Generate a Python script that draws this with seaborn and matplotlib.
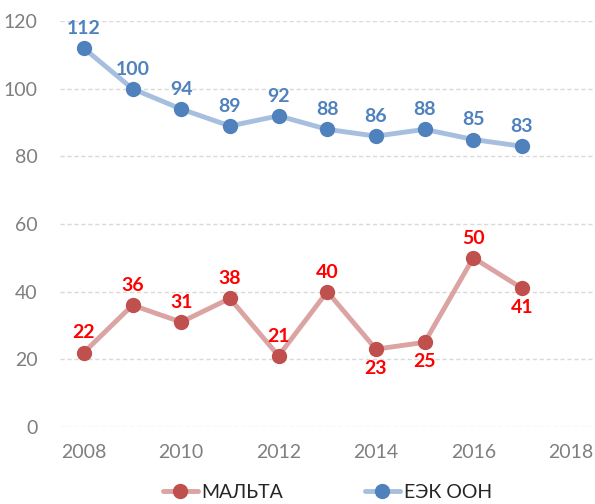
import matplotlib.pyplot as plt
import seaborn as sns
import pandas as pd

years = list(range(2008, 2018))
malta = [22, 36, 31, 38, 21, 40, 23, 25, 50, 41]
unece = [112, 100, 94, 89, 92, 88, 86, 88, 85, 83]
malta_below = [2014, 2015, 2017]

sns.set_theme(style="white")
plt.rcParams['font.family'] = ['Lato', 'DejaVu Sans']

fig = plt.figure(figsize=(5.95, 5.04), dpi=100)
ax = fig.add_axes([0.10, 0.153, 0.90, 0.805])

df = pd.DataFrame({"year": years, "МАЛЬТА": malta, "ЕЭК ООН": unece})

# lines and markers
ax.plot(df["year"], df["МАЛЬТА"], color="#dba3a2", lw=3.5, marker="o",
        ms=10, mfc="#c0504d", mec="#c0504d", label="МАЛЬТА", zorder=3)
ax.plot(df["year"], df["ЕЭК ООН"], color="#a7bfde", lw=3.5, marker="o",
        ms=10, mfc="#4f81bd", mec="#4f81bd", label="ЕЭК ООН", zorder=3)

for x, y in zip(years, unece):
    ax.annotate(str(y), (x, y), xytext=(0, 8), textcoords="offset points",
                ha="center", va="bottom", color="#4f81bd",
                fontsize=14, fontweight="bold")
for x, y in zip(years, malta):
    below = x in malta_below
    ax.annotate(str(y), (x, y), xytext=(0, -8 if below else 8),
                textcoords="offset points", ha="center",
                va="top" if below else "bottom", color="#ff0000",
                fontsize=14, fontweight="bold")

ax.set_xlim(2007.5, 2018.5)
ax.set_ylim(0, 120)
ax.set_xticks(range(2008, 2019, 2))
ax.set_yticks(range(0, 121, 20))
ax.yaxis.grid(True, ls=(0, (3, 2)), color="#d9d9d9", lw=1)
ax.set_axisbelow(True)
for s in ax.spines.values():
    s.set_visible(False)
ax.tick_params(axis="both", colors="#7f7f7f", labelsize=14, length=0, pad=12)
ax.tick_params(axis="y", pad=16)
ax.set_xlabel("")
ax.set_ylabel("")

leg = ax.legend(loc="lower center", bbox_to_anchor=(0.5, -0.225), ncol=2,
                frameon=False, fontsize=14, columnspacing=4.2,
                handlelength=1.8, handletextpad=0.2)

fig.savefig("out.png", dpi=100)
